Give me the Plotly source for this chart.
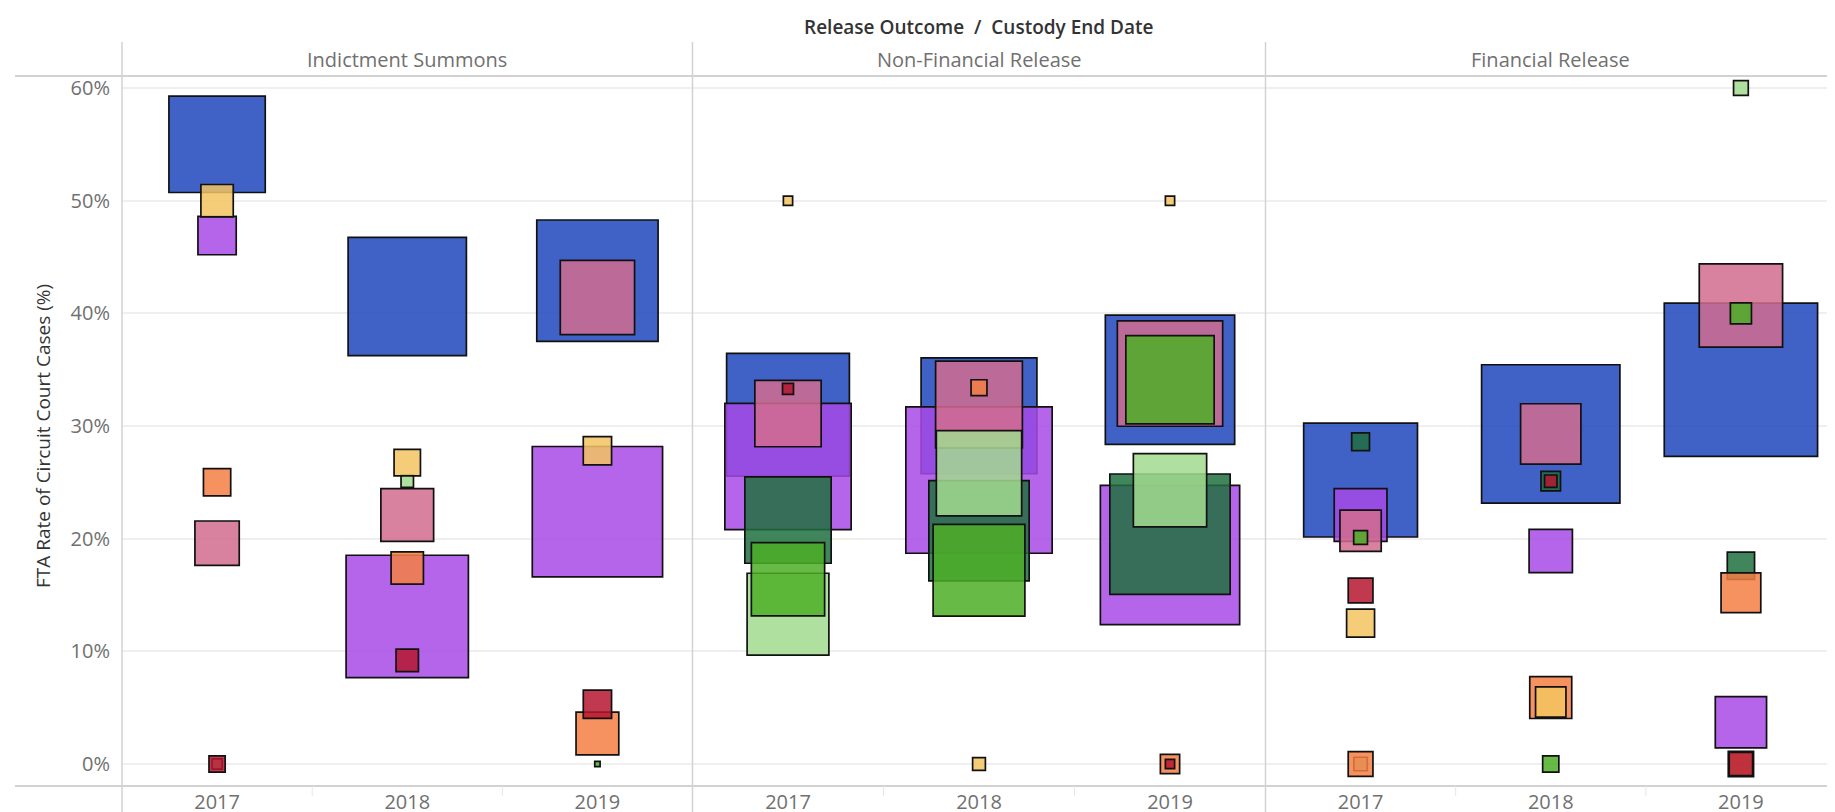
import math
import plotly.graph_objects as go

# ---------------- data ----------------
FACETS = ["Indictment Summons", "Non-Financial Release", "Financial Release"]
YEARS = ["2017", "2018", "2019"]

# FTA rate (%) per facet (rows) and custody-end year (columns); None = no mark
RATE_BLUE = [[55.0, 41.5, 42.9], [31.0, 30.9, 34.1], [25.2, 29.3, 34.1]]
RATE_PURPLE = [[46.9, 13.1, 22.4], [26.4, 25.2, 18.55], [22.1, 18.9, 3.7]]
RATE_PINK = [[19.6, 22.1, 41.4], [31.1, 31.9, 34.65], [20.7, 29.3, 40.7]]
RATE_DKGREEN = [[None, None, None], [21.65, 20.7, 20.4], [28.6, 25.1, 17.6]]
RATE_LTGREEN = [[0.0, 25.1, None], [13.3, 25.8, 24.3], [0.0, None, 60.0]]
RATE_GREEN = [[None, None, 0.0], [16.4, 17.2, 34.1], [20.1, 0.0, 40.0]]
RATE_ORANGE = [[25.0, 17.4, 2.7], [None, 33.4, 0.0], [0.0, 5.9, 15.2]]
RATE_YELLOW = [[50.0, 26.75, 27.8], [50.0, 0.0, 50.0], [12.5, 5.5, 0.0]]
RATE_RED = [[0.0, 9.2, 5.3], [33.3, None, 0.0], [15.4, 25.1, 0.0]]

# number of circuit court cases (mark size)
CASES_BLUE = [[962, 1442, 1515], [1552, 1383, 1719], [1336, 1963, 2406]]
CASES_PURPLE = [[160, 1540, 1745], [1641, 2194, 1991], [297, 203, 281]]
CASES_PINK = [[212, 297, 578], [463, 784, 1147], [185, 385, 724]]
CASES_DKGREEN = [[None, None, None], [776, 1042, 1490], [38, 45, 84]]
CASES_LTGREEN = [[14, 20, None], [698, 758, 563], [23, None, 27]]
CASES_GREEN = [[None, None, 5], [563, 875, 811], [24, 32, 52]]
CASES_ORANGE = [[84, 116, 198], [None, 31, 44], [70, 191, 172]]
CASES_YELLOW = [[116, 79, 90], [12, 21, 12], [88, 103, 73]]
CASES_RED = [[32, 58, 90], [16, None, 12], [70, 20, 63]]

SERIES = [
    ("Group 1", RATE_BLUE, CASES_BLUE, "rgba(30,70,188,0.85)"),
    ("Group 2", RATE_PURPLE, CASES_PURPLE, "rgba(168,74,230,0.85)"),
    ("Group 3", RATE_PINK, CASES_PINK, "rgba(210,108,142,0.85)"),
    ("Group 4", RATE_DKGREEN, CASES_DKGREEN, "rgba(32,112,64,0.85)"),
    ("Group 5", RATE_LTGREEN, CASES_LTGREEN, "rgba(162,218,143,0.85)"),
    ("Group 6", RATE_GREEN, CASES_GREEN, "rgba(78,174,38,0.85)"),
    ("Group 7", RATE_ORANGE, CASES_ORANGE, "rgba(243,127,68,0.85)"),
    ("Group 8", RATE_YELLOW, CASES_YELLOW, "rgba(243,196,96,0.85)"),
    ("Group 9", RATE_RED, CASES_RED, "rgba(181,22,48,0.85)"),
]

# ---------------- layout constants ----------------
W, H = 1835, 812
ML, MR, MT, MB = 114, 7, 68, 34
PW, PH = W - ML - MR, H - MT - MB
PX_PER_PCT = 676 / 60.0
Y_TOP = 60 + (80 - MT) / PX_PER_PCT
Y_BOT = Y_TOP - PH / PX_PER_PCT
BORDER = 1.7
SIZE_SCALE = 3.16
FONT = "Open Sans"
GRAY_TXT = "#707070"
LINE_COL = "#d2d2d2"

bounds = [0.0, (684.5 - ML) / PW, (1257.5 - ML) / PW, 1.0]
xnames = ["x", "x2", "x3"]


def px_to_paper_x(px):
    return (px - ML) / PW


def px_to_paper_y(py):
    return (H - MB - py) / PH


fig = go.Figure()

for name, rates, cases, color in SERIES:
    for f in range(3):
        xs, ys, ss = [], [], []
        for i, yr in enumerate(YEARS):
            r = rates[f][i]
            if r is None:
                continue
            xs.append(yr)
            ys.append(r)
            ss.append(SIZE_SCALE * math.sqrt(cases[f][i]) - BORDER)
        fig.add_trace(go.Scatter(
            x=xs, y=ys, mode="markers", name=name, showlegend=False,
            xaxis=xnames[f], yaxis="y",
            marker=dict(symbol="square", size=ss, color=color, opacity=1,
                        line=dict(color="#111111", width=BORDER)),
            hovertemplate=FACETS[f] + " %{x}<br>%{y:.1f}%<extra></extra>",
        ))

axis_common = dict(
    type="category", categoryorder="array", categoryarray=YEARS,
    range=[-0.5, 2.5], showgrid=False, zeroline=False, showline=False,
    ticks="", tickfont=dict(family=FONT, size=20, color=GRAY_TXT),
    automargin=False, anchor="y", fixedrange=True, ticklabelstandoff=2,
)
layout_axes = {}
for f in range(3):
    key = "xaxis" if f == 0 else "xaxis%d" % (f + 1)
    layout_axes[key] = dict(axis_common, domain=[bounds[f], bounds[f + 1]])

tickvals = [0, 10, 20, 30, 40, 50, 60]
layout_axes["yaxis"] = dict(
    range=[Y_BOT, Y_TOP], tickvals=tickvals, ticktext=["%d%%" % v for v in tickvals],
    showgrid=True, gridcolor="#efefef", gridwidth=1.5, zeroline=False, showline=False,
    ticks="", tickfont=dict(family=FONT, size=20, color=GRAY_TXT),
    automargin=False, anchor="x", fixedrange=True, ticklabelstandoff=11,
)

shapes = []
# zero reference line (dotted)
shapes.append(dict(type="line", xref="paper", yref="y", x0=0, x1=1, y0=0, y1=0,
                   line=dict(color="#b8b8b8", width=1, dash="dot"), layer="between"))
# pane frame lines
top_y, bot_y = px_to_paper_y(34), px_to_paper_y(H)
for b in bounds:
    shapes.append(dict(type="line", xref="paper", yref="paper", x0=b, x1=b,
                       y0=bot_y, y1=top_y, line=dict(color=LINE_COL, width=1.5)))
for yy in (1.0, 0.0):
    shapes.append(dict(type="line", xref="paper", yref="paper",
                       x0=px_to_paper_x(7), x1=1.0, y0=yy, y1=yy,
                       line=dict(color=LINE_COL, width=2)))
# small separators between years
for f in range(3):
    w = bounds[f + 1] - bounds[f]
    for k in (1, 2):
        xx = bounds[f] + w * k / 3
        shapes.append(dict(type="line", xref="paper", yref="paper", x0=xx, x1=xx,
                           y0=0, y1=px_to_paper_y(788),
                           line=dict(color="#e6e6e6", width=1)))

annotations = []
annotations.append(dict(text="Release Outcome \u00a0/\u00a0 Custody End Date", xref="paper", yref="paper",
                        x=px_to_paper_x(971), y=px_to_paper_y(19), showarrow=False,
                        xanchor="center", yanchor="middle",
                        font=dict(family=FONT, size=19, color="#333333", weight=600)))
for f in range(3):
    annotations.append(dict(text=FACETS[f], xref="paper", yref="paper",
                            x=(bounds[f] + bounds[f + 1]) / 2, y=px_to_paper_y(51),
                            showarrow=False, xanchor="center", yanchor="middle",
                            font=dict(family=FONT, size=20, color=GRAY_TXT)))
annotations.append(dict(text="FTA Rate of Circuit Court Cases (%)", xref="paper", yref="paper",
                        x=px_to_paper_x(35), y=px_to_paper_y(428), showarrow=False,
                        textangle=-90, xanchor="center", yanchor="middle",
                        font=dict(family=FONT, size=19, color="#333333")))

fig.update_layout(
    template="none",
    width=W, height=H, autosize=False,
    margin=dict(l=ML, r=MR, t=MT, b=MB, pad=0),
    paper_bgcolor="white", plot_bgcolor="white",
    showlegend=False, shapes=shapes, annotations=annotations,
    **layout_axes,
)

fig.write_html("out.html", include_plotlyjs=True, config={"displayModeBar": False})
